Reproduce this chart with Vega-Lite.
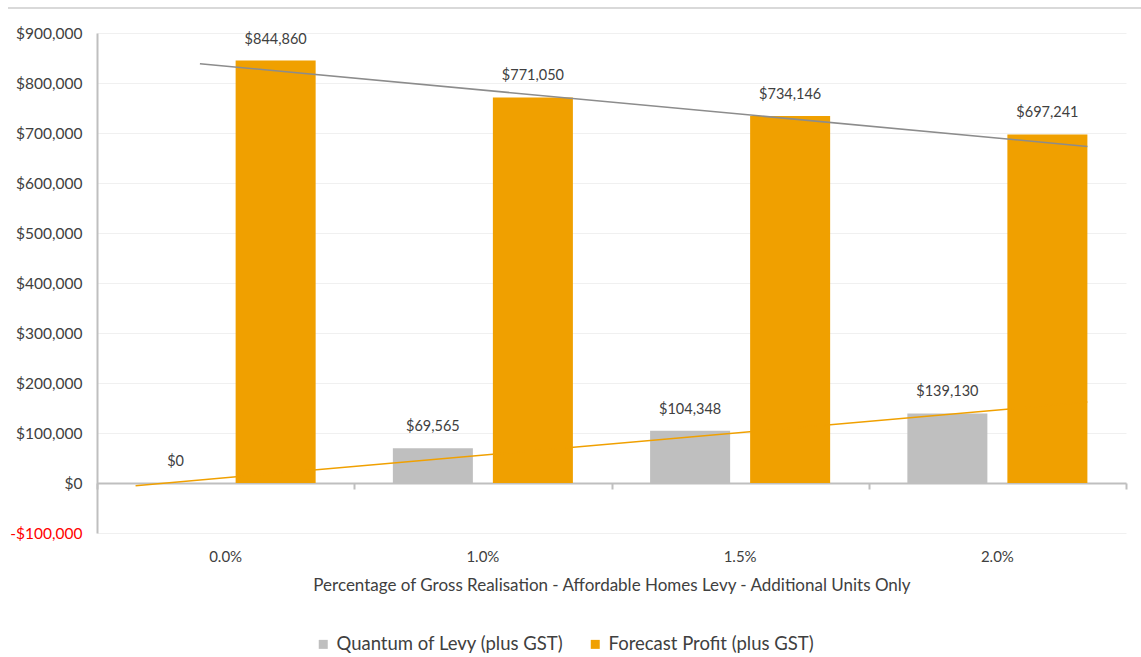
{
  "$schema": "https://vega.github.io/schema/vega-lite/v6.json",
  "width": 1029,
  "height": 500,
  "autosize": {"type": "none"},
  "padding": {"left": 97, "top": 33, "right": 15, "bottom": 124},
  "background": "white",
  "config": {
    "view": {"stroke": null},
    "font": "Lato",
    "axis": {"labelFont": "Lato", "titleFont": "Lato"},
    "legend": {"labelFont": "Lato"},
    "text": {"font": "Lato"}
  },
  "datasets": {
    "bars": [
      {"pct": "0.0%", "series": "Quantum of Levy (plus GST)", "value": 0},
      {"pct": "0.0%", "series": "Forecast Profit (plus GST)", "value": 844860},
      {"pct": "1.0%", "series": "Quantum of Levy (plus GST)", "value": 69565},
      {"pct": "1.0%", "series": "Forecast Profit (plus GST)", "value": 771050},
      {"pct": "1.5%", "series": "Quantum of Levy (plus GST)", "value": 104348},
      {"pct": "1.5%", "series": "Forecast Profit (plus GST)", "value": 734146},
      {"pct": "2.0%", "series": "Quantum of Levy (plus GST)", "value": 139130},
      {"pct": "2.0%", "series": "Forecast Profit (plus GST)", "value": 697241}
    ],
    "trend": [
      {"trend": "profit", "tx": 0.4, "value": 838586},
      {"trend": "profit", "tx": 3.85, "value": 673068},
      {"trend": "levy", "tx": 0.15, "value": -5391},
      {"trend": "levy", "tx": 3.85, "value": 161912}
    ]
  },
  "layer": [
    {
      "data": {"name": "bars"},
      "encoding": {
        "x": {
          "field": "pct", "type": "nominal", "sort": null,
          "scale": {"paddingInner": 0, "paddingOuter": 0},
          "axis": {
            "orient": "bottom",
            "title": "Percentage of Gross Realisation - Affordable Homes Levy - Additional Units Only",
            "labelAngle": 0, "domain": false, "ticks": false, "grid": false,
            "labelPadding": 16, "labelFontSize": 15, "labelColor": "#404040",
            "titleFontSize": 17, "titleFontWeight": "normal", "titleColor": "#404040", "titlePadding": 13
          }
        },
        "xOffset": {
          "field": "series", "type": "nominal",
          "scale": {"domain": ["Quantum of Levy (plus GST)", "Forecast Profit (plus GST)"], "paddingInner": 0.2, "paddingOuter": 0.386}
        },
        "y": {
          "field": "value", "type": "quantitative",
          "scale": {"domain": [-100000, 900000], "nice": false, "zero": false},
          "axis": {
            "title": null,
            "values": [-100000, 0, 100000, 200000, 300000, 400000, 500000, 600000, 700000, 800000, 900000],
            "domainColor": "#bfbfbf", "domainWidth": 2, "ticks": false,
            "labelPadding": 15, "labelFontSize": 15.5,
            "gridColor": "#f0f0f0", "gridWidth": 1,
            "labelExpr": "(datum.value < 0 ? '-' : '') + '$' + format(abs(datum.value), ',.0f')",
            "labelColor": {"expr": "datum.value < 0 ? '#ff0000' : '#404040'"}
          }
        }
      },
      "layer": [
        {
          "mark": {"type": "bar"},
          "encoding": {
            "color": {
              "field": "series", "type": "nominal",
              "scale": {"domain": ["Quantum of Levy (plus GST)", "Forecast Profit (plus GST)"], "range": ["#bfbfbf", "#f0a000"]},
              "legend": {
                "orient": "none", "legendX": 217, "legendY": 602, "direction": "horizontal",
                "title": null, "symbolType": "square", "symbolSize": 81, "symbolStrokeWidth": 0,
                "labelFontSize": 18.5, "labelColor": "#404040", "columnPadding": 22, "labelOffset": 4, "labelLimit": 400
              }
            }
          }
        },
        {
          "mark": {"type": "text", "dy": -21, "baseline": "middle", "fontSize": 14.5, "color": "#404040"},
          "encoding": {"text": {"field": "value", "type": "quantitative", "format": "$,.0f"}}
        }
      ]
    },
    {
      "data": {"name": "trend"},
      "encoding": {
        "x": {
          "field": "tx", "type": "quantitative",
          "scale": {"domain": [0, 4], "nice": false, "zero": false},
          "axis": {
            "orient": "bottom",
            "title": null, "labels": false, "grid": false, "values": [0, 1, 2, 3, 4],
            "offset": -50, "domainColor": "#bfbfbf", "domainWidth": 2,
            "tickColor": "#bfbfbf", "tickWidth": 2, "tickSize": 6
          }
        },
        "y": {"field": "value", "type": "quantitative"}
      },
      "layer": [
        {
          "transform": [{"filter": "datum.trend === 'profit'"}],
          "mark": {"type": "line", "color": "#8c8c8c", "strokeWidth": 1.5}
        },
        {
          "transform": [{"filter": "datum.trend === 'levy'"}],
          "mark": {"type": "line", "color": "#f0a000", "strokeWidth": 1.5}
        },
        {
          "mark": {"type": "rule", "color": "#d9d9d9", "strokeWidth": 2},
          "encoding": {"x": {"datum": -0.346}, "x2": {"datum": 4.058}, "y": {"datum": 950000}}
        }
      ]
    }
  ],
  "resolve": {"scale": {"x": "independent"}, "axis": {"x": "independent"}}
}
